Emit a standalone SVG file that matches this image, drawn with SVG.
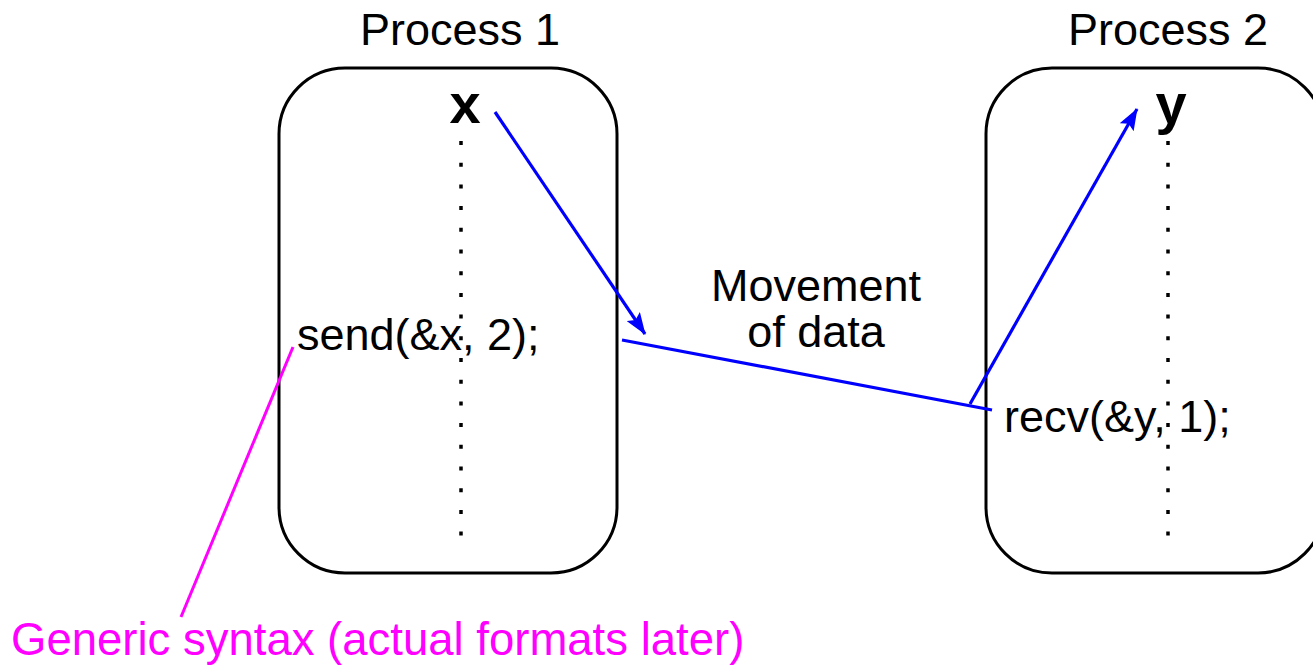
<svg xmlns="http://www.w3.org/2000/svg" width="1313" height="665" viewBox="0 0 1313 665">
<style>
.box{fill:none;stroke:#000;stroke-width:3}
.life{stroke:#000;stroke-width:3.5;stroke-dasharray:4 17.7}
.t{font-family:"Liberation Sans",Arial,sans-serif;font-size:45px;fill:#000}
.b{font-family:"Liberation Sans",Arial,sans-serif;font-size:56px;font-weight:bold;fill:#000}
.blue{stroke:#0000ff;stroke-width:3.2;fill:none}
</style>
<defs>
<marker id="ah2" viewBox="0 0 22 16" refX="21" refY="8" markerWidth="22" markerHeight="16" orient="auto" markerUnits="userSpaceOnUse">
<path d="M0,0 L22,8 L0,16 L4,8 z" fill="#0000ff"/>
</marker>
</defs>
<g id="process1">
<rect class="box" x="279" y="68" width="338" height="505" rx="66" ry="66"/>
<text class="t" x="460" y="45" text-anchor="middle">Process 1</text>
<text class="b" x="465" y="123" text-anchor="middle">x</text>
<line class="life" x1="461" y1="141" x2="461" y2="540"/>
<text class="t" x="297" y="350">send(&amp;x, 2);</text>
</g>
<g id="process2">
<rect class="box" x="986" y="68" width="338" height="505" rx="66" ry="66"/>
<text class="t" x="1168" y="45" text-anchor="middle">Process 2</text>
<text class="b" x="1171" y="123" text-anchor="middle">y</text>
<line class="life" x1="1168" y1="141" x2="1168" y2="540"/>
<text class="t" x="1004" y="432">recv(&amp;y, 1);</text>
</g>
<g id="label">
<text class="t" x="816" y="301" text-anchor="middle">Movement</text>
<text class="t" x="816" y="347" text-anchor="middle">of data</text>
</g>
<g id="note">
<text class="t" x="11" y="655" style="fill:#ff00ff;font-size:45.5px">Generic syntax (actual formats later)</text>
</g>
<g id="connectors">
<line class="blue" x1="495" y1="112" x2="645" y2="334" marker-end="url(#ah2)"/>
<line class="blue" x1="622" y1="340" x2="992" y2="410"/>
<line class="blue" x1="970" y1="404" x2="1137" y2="109" marker-end="url(#ah2)"/>
<line x1="181" y1="617" x2="293" y2="347" stroke="#ff00ff" stroke-width="3"/>
</g>
</svg>
